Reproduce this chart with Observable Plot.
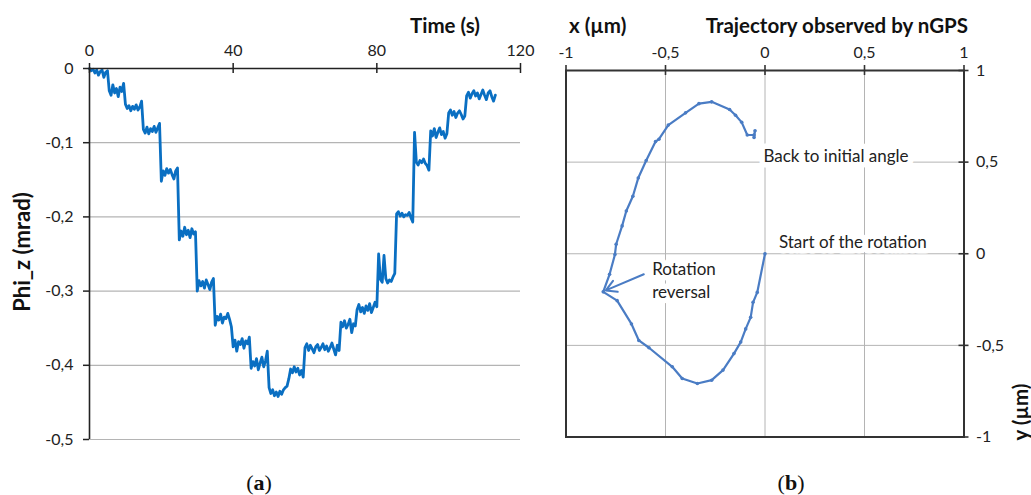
<!DOCTYPE html>
<html><head><meta charset="utf-8">
<script src="https://cdn.jsdelivr.net/npm/d3@7"></script>
<script src="https://cdn.jsdelivr.net/npm/@observablehq/plot@0.6"></script>
<style>
body{margin:0;background:#fff;}
#wrap{position:relative;width:1031px;height:495px;overflow:hidden;font-family:Lato,sans-serif;color:#111;}
.abs{position:absolute;white-space:nowrap;}
.titleB{font-weight:bold;font-size:20.5px;line-height:1;}
.cap{font-family:"Liberation Serif","DejaVu Serif",serif;font-size:22px;line-height:1;}
</style></head><body>
<div id="wrap">
  <div id="pa" class="abs" style="left:0;top:0"></div>
  <div id="pb" class="abs" style="left:540px;top:0"></div>
  <div class="abs titleB" style="left:480px;top:25px;transform:translate(-100%,-50%)">Time (s)</div>
  <div class="abs titleB" style="left:22px;top:252px;font-size:22px;transform:translate(-50%,-50%) rotate(-90deg)">Phi_z (mrad)</div>
  <div class="abs titleB" style="left:569px;top:25px;transform:translate(0,-50%)">x (µm)</div>
  <div class="abs titleB" style="left:968px;top:25px;transform:translate(-100%,-50%)">Trajectory observed by nGPS</div>
  <div class="abs titleB" style="left:1020px;top:412px;transform:translate(-50%,-50%) rotate(-90deg)">y (µm)</div>
  <div class="abs cap" style="left:259px;top:483px;transform:translate(-50%,-50%)">(<b>a</b>)</div>
  <div class="abs cap" style="left:791px;top:483px;transform:translate(-50%,-50%)">(<b>b</b>)</div>
</div>
<script>
// ---- Panel (a): Phi_z vs time, sampled every 0.5 s ----
const sampleStep = 0.5;
const phiZ = [
  0, -0.003, -0.001, -0.006, -0.002, -0.009, -0.004, -0.002, -0.012, -0.005, -0.003,
  -0.03, -0.036, -0.022, -0.033, -0.027, -0.038, -0.025, -0.031, -0.02,
  -0.048, -0.054, -0.05, -0.057, -0.051, -0.055, -0.049, -0.056, -0.052, -0.044,
  -0.082, -0.087, -0.079, -0.088, -0.081, -0.085, -0.078, -0.086, -0.08, -0.074,
  -0.152, -0.138, -0.144, -0.135, -0.141, -0.136, -0.143, -0.149, -0.138, -0.134,
  -0.231, -0.219, -0.226, -0.214, -0.224, -0.218, -0.228, -0.216, -0.223, -0.22,
  -0.3, -0.286, -0.293, -0.287, -0.296, -0.285, -0.291, -0.298, -0.288, -0.283,
  -0.346, -0.334, -0.339, -0.331, -0.343, -0.335, -0.337, -0.33, -0.338, -0.348,
  -0.375, -0.366, -0.381, -0.368, -0.372, -0.364, -0.377, -0.367, -0.371, -0.362,
  -0.404, -0.395, -0.401, -0.391, -0.406, -0.397, -0.389, -0.402, -0.394, -0.381,
  -0.43, -0.438, -0.433, -0.441, -0.436, -0.442, -0.435, -0.439, -0.433, -0.43,
  -0.428, -0.418, -0.405, -0.41, -0.402, -0.409, -0.404, -0.413, -0.407, -0.416,
  -0.376, -0.371, -0.38, -0.373, -0.378, -0.383, -0.375, -0.372, -0.38, -0.376,
  -0.371, -0.379, -0.374, -0.381, -0.376, -0.37, -0.378, -0.386, -0.373, -0.38,
  -0.342, -0.348, -0.34, -0.35, -0.345, -0.338, -0.356, -0.344, -0.347,
  -0.325, -0.318, -0.328, -0.322, -0.33, -0.32, -0.326, -0.317, -0.329, -0.322, -0.315, -0.321,
  -0.25, -0.284, -0.288, -0.252, -0.283, -0.289, -0.285, -0.287, -0.281, -0.276,
  -0.196, -0.193, -0.199, -0.195, -0.2, -0.197, -0.198, -0.194, -0.201, -0.207,
  -0.086, -0.126, -0.13, -0.124, -0.127, -0.122, -0.128, -0.131, -0.137,
  -0.084, -0.091, -0.081, -0.093, -0.086, -0.08, -0.089, -0.085, -0.094, -0.088,
  -0.06, -0.056, -0.063, -0.058, -0.066, -0.06, -0.057, -0.062, -0.068, -0.064,
  -0.037, -0.032, -0.04, -0.034, -0.03, -0.037, -0.033, -0.041, -0.035, -0.029,
  -0.036, -0.042, -0.033, -0.03, -0.038, -0.044, -0.036
];
const timeTicks = [0, 40, 80, 120];
const phiTicks = [0, -0.1, -0.2, -0.3, -0.4, -0.5];

// ---- Panel (b): trajectory observed by nGPS ----
const trajX = [0, -0.039, -0.06, -0.072, -0.097, -0.122, -0.156, -0.211, -0.268, -0.34,
  -0.416, -0.466, -0.583, -0.634, -0.671, -0.743, -0.813, -0.781, -0.754,
  -0.748, -0.718, -0.697, -0.664, -0.637, -0.597, -0.55, -0.533, -0.486, -0.399,
  -0.332, -0.268, -0.178, -0.148, -0.117, -0.089, -0.055, -0.05, -0.055];
const trajY = [0, -0.211, -0.265, -0.347, -0.41, -0.482, -0.545, -0.635, -0.69, -0.708,
  -0.681, -0.617, -0.513, -0.473, -0.383, -0.256, -0.208, -0.112, -0.004,
  0.052, 0.152, 0.233, 0.314, 0.413, 0.509, 0.612, 0.625, 0.702, 0.769,
  0.819, 0.829, 0.787, 0.756, 0.717, 0.648, 0.648, 0.671, 0.635];
const xTicksB = [-1, -0.5, 0, 0.5, 1];
const yTicksB = [1, 0.5, 0, -0.5, -1];
const noteText = ["Back to initial angle", "Start of the rotation", "Rotation\nreversal"];
const noteX = [-0.008, 0.07, -0.567];
const noteY = [0.54, 0.074, -0.137];
const arrowFrom = {x: -0.609, y: -0.112};
const arrowTo = {x: -0.8, y: -0.2};

const fmt = d => String(d).replace(".", ",");
const axisCol = "#222";
const gridCol = "#b4b4b4";

const dataA = phiZ.map((v, i) => ({t: i * sampleStep, phi: v}));
const hA = 460, mtA = 68, mbA = 21;
const plotA = Plot.plot({
  width: 540, height: hA,
  marginLeft: 89, marginRight: 20, marginTop: mtA, marginBottom: mbA,
  style: {fontFamily: "Lato, sans-serif", fontSize: "16px", color: "#222", background: "transparent", overflow: "visible"},
  x: {domain: [0, 120], axis: null},
  y: {domain: [-0.5, 0], axis: null},
  marks: [
    Plot.gridY(phiTicks.filter(d => d !== 0), {stroke: gridCol, strokeOpacity: 1, strokeWidth: 1.2}),
    Plot.lineY(dataA, {x: "t", y: "phi", stroke: "#0a6fc2", strokeWidth: 2.8}),
    Plot.axisX(timeTicks, {anchor: "top", tickSize: 0, tickPadding: 13, tickFormat: fmt, label: null}),
    Plot.axisY(phiTicks, {anchor: "left", tickSize: 6, tickPadding: 10, tickFormat: fmt, label: null, stroke: axisCol, strokeWidth: 1.5}),
    Plot.ruleX(timeTicks, {insetTop: -5, insetBottom: hA - mtA - mbA - 5, stroke: axisCol, strokeWidth: 1.5}),
    Plot.ruleX([0], {stroke: axisCol, strokeWidth: 1.6}),
    Plot.ruleY([0], {stroke: axisCol, strokeWidth: 1.6})
  ]
});
document.getElementById("pa").append(plotA);

const dataB = trajX.map((x, i) => ({x, y: trajY[i]}));
const notes = noteText.map((s, i) => ({s, x: noteX[i], y: noteY[i]}));
const wB = 491, hB = 460, mlB = 25.5, mrB = 67.5, mtB = 70, mbB = 23.5;
const lineB = "#4a7cc4";
const plotB = Plot.plot({
  width: wB, height: hB,
  marginLeft: mlB, marginRight: mrB, marginTop: mtB, marginBottom: mbB,
  style: {fontFamily: "Lato, sans-serif", fontSize: "16px", color: "#222", background: "transparent", overflow: "visible"},
  x: {domain: [-1, 1], axis: null},
  y: {domain: [-1, 1], axis: null},
  marks: [
    Plot.gridX(xTicksB.filter(d => Math.abs(d) < 1), {stroke: gridCol, strokeOpacity: 1}),
    Plot.gridY(yTicksB.filter(d => Math.abs(d) < 1), {stroke: gridCol, strokeOpacity: 1}),
    Plot.text(notes, {x: "x", y: "y", text: "s", textAnchor: "start", fontSize: 17, lineHeight: 1.35,
      fill: "#222", stroke: "white", strokeWidth: 11, strokeLinejoin: "round"}),
    Plot.line(dataB, {x: "x", y: "y", stroke: lineB, strokeWidth: 2.2}),
    Plot.dot(dataB, {x: "x", y: "y", r: 1.8, fill: lineB, stroke: "none"}),
    Plot.arrow([{x1: arrowFrom.x, y1: arrowFrom.y, x2: arrowTo.x, y2: arrowTo.y}],
      {x1: "x1", y1: "y1", x2: "x2", y2: "y2", stroke: lineB, strokeWidth: 2, headLength: 9}),
    Plot.frame({stroke: "#333", strokeWidth: 2}),
    Plot.axisX(xTicksB, {anchor: "top", tickSize: 0, tickPadding: 13, tickFormat: fmt, label: null}),
    Plot.axisY(yTicksB, {anchor: "right", tickSize: 0, tickPadding: 12, tickFormat: fmt, label: null}),
    Plot.ruleX(xTicksB, {insetTop: -5, insetBottom: hB - mtB - mbB - 5, stroke: "#333", strokeWidth: 1.6}),
    Plot.ruleY(yTicksB, {insetLeft: wB - mlB - mrB - 5, insetRight: -5, stroke: "#333", strokeWidth: 1.6})
  ]
});
document.getElementById("pb").append(plotB);
</script>
</body></html>
